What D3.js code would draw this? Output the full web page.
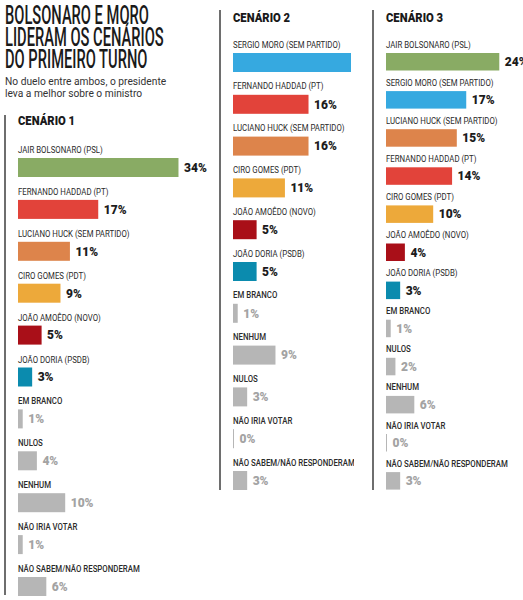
<!DOCTYPE html>
<html>
<head>
<meta charset="utf-8">
<script src="https://cdn.jsdelivr.net/npm/d3@7"></script>
<style>
  html, body { margin: 0; padding: 0; background: #fff; }
  svg { display: block; }
</style>
</head>
<body>
<svg id="chart" width="523" height="600"></svg>
<script>
// ---------- DATA ----------
const titleLines = ["BOLSONARO E MORO", "LIDERAM OS CENÁRIOS", "DO PRIMEIRO TURNO"];
const subtitleLines = ["No duelo entre ambos, o presidente", "leva a melhor sobre o ministro"];

const scenarioTitles = ["CENÁRIO 1", "CENÁRIO 2", "CENÁRIO 3"];

const cenario1Labels = ["JAIR BOLSONARO (PSL)", "FERNANDO HADDAD (PT)", "LUCIANO HUCK (SEM PARTIDO)", "CIRO GOMES (PDT)", "JOÃO AMOÊDO (NOVO)", "JOÃO DORIA (PSDB)", "EM BRANCO", "NULOS", "NENHUM", "NÃO IRIA VOTAR", "NÃO SABEM/NÃO RESPONDERAM"];
const cenario1Values = [34, 17, 11, 9, 5, 3, 1, 4, 10, 1, 6];

const cenario2Labels = ["SERGIO MORO (SEM PARTIDO)", "FERNANDO HADDAD (PT)", "LUCIANO HUCK (SEM PARTIDO)", "CIRO GOMES (PDT)", "JOÃO AMOÊDO (NOVO)", "JOÃO DORIA (PSDB)", "EM BRANCO", "NENHUM", "NULOS", "NÃO IRIA VOTAR", "NÃO SABEM/NÃO RESPONDERAM"];
const cenario2Values = [25, 16, 16, 11, 5, 5, 1, 9, 3, 0, 3];

const cenario3Labels = ["JAIR BOLSONARO (PSL)", "SERGIO MORO (SEM PARTIDO)", "LUCIANO HUCK (SEM PARTIDO)", "FERNANDO HADDAD (PT)", "CIRO GOMES (PDT)", "JOÃO AMOÊDO (NOVO)", "JOÃO DORIA (PSDB)", "EM BRANCO", "NULOS", "NENHUM", "NÃO IRIA VOTAR", "NÃO SABEM/NÃO RESPONDERAM"];
const cenario3Values = [24, 17, 15, 14, 10, 4, 3, 1, 2, 6, 0, 3];

const candidateNames = ["JAIR BOLSONARO (PSL)", "SERGIO MORO (SEM PARTIDO)", "FERNANDO HADDAD (PT)", "LUCIANO HUCK (SEM PARTIDO)", "CIRO GOMES (PDT)", "JOÃO AMOÊDO (NOVO)", "JOÃO DORIA (PSDB)"];
const candidateColors = ["#89ab64", "#36a9e0", "#e2433a", "#dd844b", "#eda93a", "#a90f18", "#0b8bae"];
const otherColor = "#b6b6b6";

// ---------- STYLE / LAYOUT ----------
const color = d3.scaleOrdinal().domain(candidateNames).range(candidateColors).unknown(otherColor);
const isCandidate = n => candidateNames.includes(n);

const svg = d3.select("#chart");
const condensed = "Roboto, 'Liberation Sans', Arial, sans-serif";

// Title
svg.append("g").selectAll("text").data(titleLines).join("text")
  .attr("transform", (d, i) => `translate(5,${24 + i * 22}) scale(0.565,1)`)
  .attr("font-family", condensed)
  .attr("font-weight", 500)
  .attr("font-size", 26)
  .attr("fill", "#1a1a1a")
  .text(d => d);

svg.append("g").selectAll("text").data(subtitleLines).join("text")
  .attr("transform", (d, i) => `translate(5,${85 + i * 12}) scale(0.93,1)`)
  .attr("font-family", condensed)
  .attr("font-size", 11)
  .attr("fill", "#333")
  .text(d => d);

// Shared x scale (percent -> px)
const x = d3.scaleLinear().domain([0, 10]).range([0, 47.2]);

const columns = [
  { labels: cenario1Labels, values: cenario1Values, title: scenarioTitles[0],
    lineX: 5, lineTop: 115, lineBottom: 595, titleY: 125, x0: 18, first: 153, pitch: 41.9, barOff: 5, barH: 19, clip: null },
  { labels: cenario2Labels, values: cenario2Values, title: scenarioTitles[1],
    lineX: 220, lineTop: 10, lineBottom: 490, titleY: 22, x0: 233, first: 47.5, pitch: 41.8, barOff: 5.5, barH: 19, clip: 354 },
  { labels: cenario3Labels, values: cenario3Values, title: scenarioTitles[2],
    lineX: 373, lineTop: 10, lineBottom: 490, titleY: 22, x0: 386, first: 47.5, pitch: 38.1, barOff: 5.5, barH: 17.5, clip: null }
];

const defs = svg.append("defs");

columns.forEach((c, ci) => {
  const g = svg.append("g");
  if (c.clip) {
    defs.append("clipPath").attr("id", "clip" + ci)
      .append("rect").attr("x", 0).attr("y", 0).attr("width", c.clip).attr("height", 600);
    g.attr("clip-path", `url(#clip${ci})`);
  }
  // vertical rule
  g.append("line")
    .attr("x1", c.lineX).attr("x2", c.lineX)
    .attr("y1", c.lineTop).attr("y2", c.lineBottom)
    .attr("stroke", "#4a4a4a").attr("stroke-width", 1.6);

  g.append("text")
    .attr("transform", `translate(${c.x0},${c.titleY}) scale(0.9,1)`)
    .attr("font-family", condensed)
    .attr("font-weight", 900)
    .attr("font-size", 12.5)
    .attr("fill", "#1a1a1a")
    .text(c.title);

  const data = c.labels.map((l, i) => ({ label: l, value: c.values[i] }));
  const y = d3.scaleLinear().domain([0, data.length - 1])
    .range([c.first, c.first + (data.length - 1) * c.pitch]);

  const rows = g.selectAll("g.row").data(data).join("g").attr("class", "row");

  rows.append("text")
    .attr("transform", (d, i) => `translate(${c.x0},${y(i)}) scale(0.87,1)`)
    .attr("font-family", condensed)
    .attr("font-weight", d => isCandidate(d.label) ? 400 : 500)
    .attr("font-size", 9)
    .attr("fill", "#2b2b2b")
    .text(d => d.label);

  rows.append("rect")
    .attr("x", c.x0)
    .attr("y", (d, i) => y(i) + c.barOff)
    .attr("width", d => Math.max(1, x(d.value)))
    .attr("height", c.barH)
    .attr("fill", d => color(d.label));

  rows.append("text")
    .attr("x", d => c.x0 + Math.max(1, x(d.value)) + 5.5)
    .attr("y", (d, i) => y(i) + c.barOff + c.barH / 2 + 4.3)
    .attr("font-family", condensed)
    .attr("font-weight", 900)
    .attr("font-size", 12)
    .attr("fill", d => isCandidate(d.label) ? "#1c1c1c" : "#a3a3a3")
    .text(d => d.value + "%");
});
</script>
</body>
</html>
